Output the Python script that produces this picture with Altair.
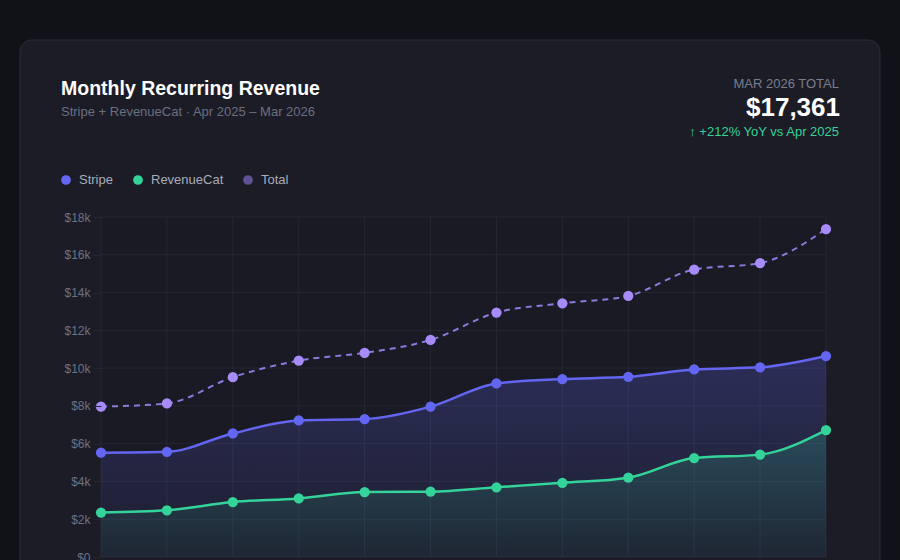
import altair as alt
import pandas as pd

# ---- data ----
months = ["Apr", "May", "Jun", "Jul", "Aug", "Sep", "Oct", "Nov", "Dec", "Jan", "Feb", "Mar"]
stripe = [5520, 5570, 6540, 7230, 7300, 7960, 9190, 9420, 9540, 9930, 10040, 10640]
revenuecat = [2350, 2470, 2910, 3100, 3440, 3460, 3690, 3930, 4200, 5240, 5420, 6721]
total = [7960, 8130, 9520, 10400, 10810, 11490, 12940, 13430, 13820, 15220, 15560, 17361]
y_ticks = [0, 2000, 4000, 6000, 8000, 10000, 12000, 14000, 16000, 18000]

series_names = ["Stripe", "RevenueCat", "Total"]
legend_colors = ["#6366f1", "#34d399", "#5f5192"]

title_text = "Monthly Recurring Revenue"
subtitle_text = "Stripe + RevenueCat · Apr 2025 – Mar 2026"
kpi_label = "MAR 2026 TOTAL"
kpi_value = "$17,361"
kpi_delta = "↑ +212% YoY vs Apr 2025"

df = pd.DataFrame({"month": months, "Stripe": stripe, "RevenueCat": revenuecat, "Total": total})
ticks_df = pd.DataFrame({"v": y_ticks})
one = pd.DataFrame({"k": [0]})

FONT = "Liberation Sans"
GRID = "#252734"
W, H = 725, 340

xenc = alt.X("month:O", sort=months, scale=alt.Scale(type="point", padding=0),
             axis=alt.Axis(title=None, grid=False, domain=False, ticks=False, labels=False, zindex=1))
yscale = alt.Scale(domain=[0, 18000], nice=False)
yaxis = alt.Axis(title=None, grid=False, domain=False, values=y_ticks, tickSize=8, tickColor=GRID,
                 labelPadding=3, labelColor="#6e7282", labelFont=FONT, labelFontSize=12,
                 labelOverlap=False, labelBound=False, labelFlush=False,
                 labelExpr="datum.value == 0 ? '$0' : '$' + (datum.value/1000) + 'k'", zindex=1)

def yenc(field):
    return alt.Y(field, scale=yscale, axis=yaxis)

base = alt.Chart(df)

card = alt.Chart(one).mark_rect(cornerRadius=12, fill="#1b1c26", stroke="#2a2c38", strokeWidth=1).encode(
    x=alt.value(-81), x2=alt.value(779), y=alt.value(-177), y2=alt.value(460))
plotbg = alt.Chart(one).mark_rect(fill="#191a23").encode(
    x=alt.value(0), x2=alt.value(W), y=alt.value(0), y2=alt.value(H))

hgrid = alt.Chart(ticks_df).mark_rule(color=GRID, strokeWidth=1).encode(y=yenc("v:Q"))
vgrid = base.mark_rule(color=GRID, strokeWidth=1).encode(x=xenc)

def grad(r, g, b, top, bottom):
    return alt.Gradient(gradient="linear",
                        stops=[alt.GradientStop(color=f"rgba({r},{g},{b},{top})", offset=0),
                               alt.GradientStop(color=f"rgba({r},{g},{b},{bottom})", offset=1)],
                        x1=1, x2=1, y1=0, y2=1)

area_s = base.mark_area(interpolate="monotone", color=grad(99, 102, 241, 0.26, 0.05)).encode(
    x=xenc, y=yenc("Stripe:Q"))
area_r = base.mark_area(interpolate="monotone", color=grad(52, 211, 153, 0.2, 0.05)).encode(
    x=xenc, y=yenc("RevenueCat:Q"))

line_t = base.mark_line(interpolate="monotone", color="#8b7be0", strokeWidth=2, strokeDash=[6, 5]).encode(
    x=xenc, y=yenc("Total:Q"))
line_s = base.mark_line(interpolate="monotone", color="#6366f1", strokeWidth=2.5).encode(
    x=xenc, y=yenc("Stripe:Q"))
line_r = base.mark_line(interpolate="monotone", color="#34d399", strokeWidth=2.5).encode(
    x=xenc, y=yenc("RevenueCat:Q"))

PT = 105
pt_t = base.mark_circle(size=PT, opacity=1, color="#a78bfa").encode(x=xenc, y=yenc("Total:Q"))
pt_s = base.mark_circle(size=PT, opacity=1, color="#6366f1").encode(x=xenc, y=yenc("Stripe:Q"))
pt_r = base.mark_circle(size=PT, opacity=1, color="#34d399").encode(x=xenc, y=yenc("RevenueCat:Q"))

def txt(s, x, y, size, color, weight="normal", align="left"):
    return alt.Chart(one).mark_text(align=align, baseline="alphabetic", font=FONT, fontSize=size,
                                    fontWeight=weight, color=color).encode(
        x=alt.value(x), y=alt.value(y), text=alt.value(s))

texts = [
    txt(title_text, -40, -122, 19.5, "#ffffff", "bold"),
    txt(subtitle_text, -40, -101, 13, "#6b6f80"),
    txt(kpi_label, 738, -129, 13, "#7a7e8c", align="right"),
    txt(kpi_value, 739, -101, 26, "#ffffff", "bold", align="right"),
    txt(kpi_delta, 738, -81, 13, "#34d399", align="right"),
]

leg_x = [-35, 37, 147]
legend_layers = []
for name, col, lx in zip(series_names, legend_colors, leg_x):
    legend_layers.append(alt.Chart(one).mark_circle(size=95, opacity=1, color=col).encode(
        x=alt.value(lx), y=alt.value(-37)))
    legend_layers.append(alt.Chart(one).mark_text(align="left", baseline="middle", font=FONT, fontSize=13,
                                                  color="#a9acb9").encode(
        x=alt.value(lx + 13), y=alt.value(-37), text=alt.value(name)))

chart = alt.layer(
    card, plotbg, hgrid, vgrid, area_s, area_r, line_t, line_s, line_r, pt_t, pt_s, pt_r,
    *texts, *legend_layers
).properties(
    width=W, height=H,
    autosize=alt.AutoSizeParams(type="none"),
    padding={"left": 101, "top": 217, "right": 74, "bottom": 3},
    background="#111217",
).configure_view(strokeWidth=0)

chart.save("out.html", embed_options={"renderer": "svg", "actions": False})
